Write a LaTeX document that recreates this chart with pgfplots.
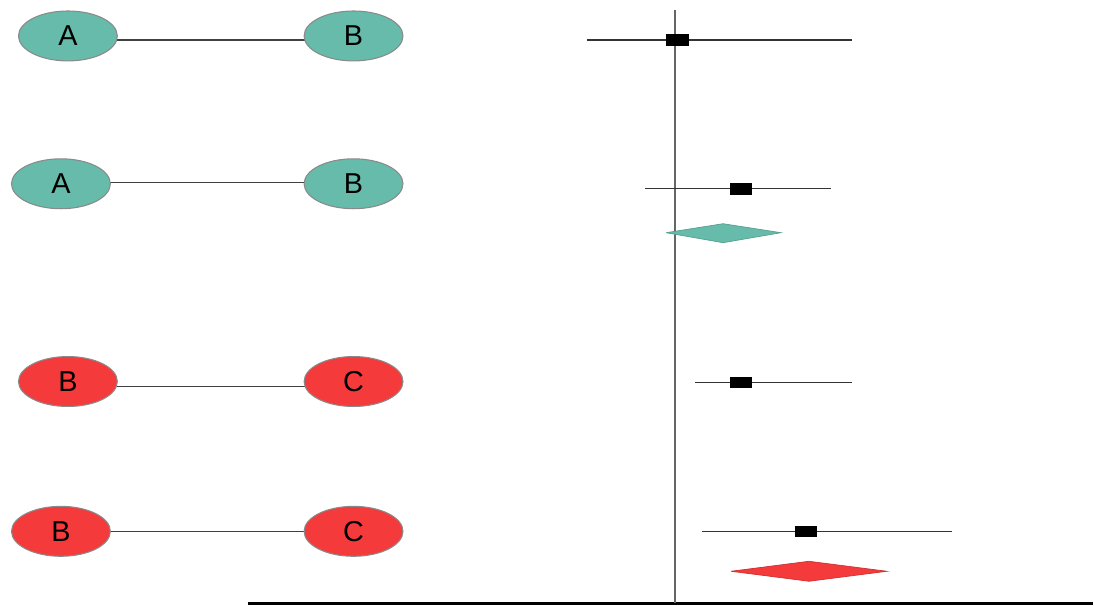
\documentclass[border=0pt]{standalone}
\usepackage{pgfplots}
\pgfplotsset{compat=1.18}
\usepackage{pgfplotstable}
\usepackage{fontspec}
\setmainfont{Liberation Sans}
\usetikzlibrary{shapes.geometric}
\definecolor{tealc}{HTML}{66BBAA}
\definecolor{redc}{HTML}{F43A3A}
\definecolor{edgec}{HTML}{8A8A8A}

\pgfplotstableread{
x y lab
68 36 A
354 36 B
61 184 A
354 184 B
}\tealnodes
\pgfplotstableread{
x y lab
68 382 B
354 382 C
61 532 B
354 532 C
}\rednodes
\pgfplotstableread{
x y em ep
678 40 90 175
742 189 96 90
742 383 46 111
807 532 104 146
}\est

\begin{document}
\begin{tikzpicture}
\begin{axis}[scale only axis, width=10.94cm, height=6.06cm,
  xmin=0, xmax=1094, ymin=0, ymax=606, y dir=reverse,
  hide axis, clip=false]
\path (axis cs:0,0) (axis cs:1094,606);
% axes lines
\addplot[black, line width=0.8pt] coordinates {(248,604) (1094,604)};
\addplot[black!60, line width=0.7pt] coordinates {(676,10) (676,604)};
% network edges
\addplot[black!75, line width=0.45pt] coordinates {(68,40) (354,40)};
\addplot[black!75, line width=0.4pt] coordinates {(61,183) (354,183)};
\addplot[black!75, line width=0.45pt] coordinates {(68,387) (354,387)};
\addplot[black!75, line width=0.4pt] coordinates {(61,532) (354,532)};
% nodes
\addplot[draw=none, mark=none, nodes near coords, point meta=explicit symbolic,
  nodes near coords align=center,
  every node near coord/.style={ellipse, draw=edgec, line width=0.3pt, fill=tealc,
    minimum width=0.99cm, minimum height=0.5cm, inner sep=0pt, anchor=center,
    text=black, font=\fontsize{8.2}{9}\selectfont}]
  table[x=x, y=y, meta=lab] {\tealnodes};
\addplot[draw=none, mark=none, nodes near coords, point meta=explicit symbolic,
  nodes near coords align=center,
  every node near coord/.style={ellipse, draw=edgec, line width=0.3pt, fill=redc,
    minimum width=0.99cm, minimum height=0.5cm, inner sep=0pt, anchor=center,
    text=black, font=\fontsize{8.2}{9}\selectfont}]
  table[x=x, y=y, meta=lab] {\rednodes};
% estimates with CIs
\addplot[only marks, mark=square*, mark size=1.45pt,
  mark options={xscale=2.1, fill=black, draw=black},
  error bars/.cd, x dir=both, x explicit, error mark=none,
  error bar style={line width=0.4pt, black!80}]
  table[x=x, y=y, x error plus=ep, x error minus=em] {\est};
% pooled diamonds
\addplot[fill=tealc, draw=tealc!85!black, line width=0.2pt]
  coordinates {(667,233) (724,224) (782,233) (724,243) (667,233)};
\addplot[fill=redc, draw=redc!85!black, line width=0.2pt]
  coordinates {(732,572) (810,562) (888,572) (810,582) (732,572)};
\end{axis}
\end{tikzpicture}
\end{document}
